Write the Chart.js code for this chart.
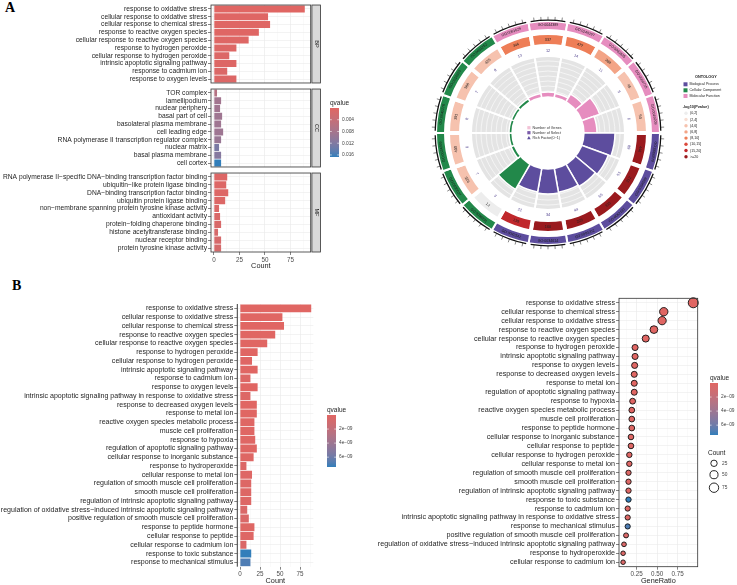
<!DOCTYPE html>
<html>
<head>
<meta charset="utf-8">
<script src="https://cdn.jsdelivr.net/npm/chart.js@4.4.1/dist/chart.umd.min.js"></script>
<style>
body{margin:0;background:#fff;width:737px;height:585px;position:relative;overflow:hidden;font-family:"Liberation Sans",Arial,sans-serif}
canvas{position:absolute}
.tag{position:absolute;font-family:"Liberation Serif","Times New Roman",serif;font-weight:bold;font-size:14px;line-height:14px}
</style>
</head>
<body>
<div class="tag" style="left:5px;top:1px">A</div>
<div class="tag" style="left:12px;top:279px">B</div>
<canvas id="bp" width="324" height="88" style="left:0;top:0"></canvas>
<canvas id="cc" width="360" height="88" style="left:0;top:84px"></canvas>
<canvas id="mf" width="324" height="102" style="left:0;top:168px"></canvas>
<canvas id="ring" width="319" height="260" style="left:418px;top:3px"></canvas>
<canvas id="inner" width="154" height="154" style="left:471px;top:56px"></canvas>
<canvas id="bbar" width="360" height="287" style="left:0;top:298px"></canvas>
<canvas id="dot" width="361" height="295" style="left:376px;top:290px"></canvas>
<script>
// ---------- panel A : bar chart by ontology ----------
const bpTerms = ["response to oxidative stress","cellular response to oxidative stress","cellular response to chemical stress","response to reactive oxygen species","cellular response to reactive oxygen species","response to hydrogen peroxide","cellular response to hydrogen peroxide","intrinsic apoptotic signaling pathway","response to cadmium ion","response to oxygen levels"];
const bpCount = [89,53,55,44,34,22,15,22,13,22];
const bpQ = [0.00001,0.0001,0.0001,0.0002,0.0003,0.0004,0.0006,0.0004,0.0008,0.0006];

const ccTerms = ["TOR complex","lamellipodium","nuclear periphery","basal part of cell","basolateral plasma membrane","cell leading edge","RNA polymerase II transcription regulator complex","nuclear matrix","basal plasma membrane","cell cortex"];
const ccCount = [3,7,6,8,7,9,7,5,7,7];
const ccQ = [0.0062,0.0085,0.0086,0.0088,0.0088,0.009,0.0095,0.0125,0.0115,0.0167];

const mfTerms = ["RNA polymerase II\u2212specific DNA\u2212binding transcription factor binding","ubiquitin\u2212like protein ligase binding","DNA\u2212binding transcription factor binding","ubiquitin protein ligase binding","non\u2212membrane spanning protein tyrosine kinase activity","antioxidant activity","protein\u2212folding chaperone binding","histone acetyltransferase binding","nuclear receptor binding","protein tyrosine kinase activity"];
const mfCount = [13,12,14,11,5,6,7,4,7,7];
const mfQ = [0.0005,0.0005,0.0005,0.0006,0.0008,0.001,0.0012,0.0015,0.0015,0.0016];
const aQTicks = [0.004,0.008,0.012,0.016];

// ---------- panel A : circular plot (MF, BP, CC; clockwise) ----------
const goIds = ["GO:0061629","GO:0044389","GO:0140297","GO:0031625","GO:0004715","GO:0016209",
  "GO:0006979","GO:0034599","GO:0062197","GO:0000302","GO:0034614","GO:0042542",
  "GO:0038201","GO:0030027","GO:0034399","GO:0045178","GO:0016323","GO:0031252"];
const goOnt = ["MF","MF","MF","MF","MF","MF","BP","BP","BP","BP","BP","BP","CC","CC","CC","CC","CC","CC"];
const goGenes = [344,337,477,308,45,50, 446,312,333,225,160,139, 12,326,400,391,388,425];
const goSelect = [13,12,14,11,5,6, 89,53,55,44,34,22, 3,7,6,8,7,9];
const goLogP = [9,9.5,9.2,7,5,5, 40,28,28,25,22,20, 1.5,5,5,5,5,5];
const goRich = [0.08,0.1,0.08,0.2,0.45,0.3, 0.75,0.68,0.62,0.58,0.6,0.57, 0.7,0.06,0.05,0.05,0.05,0.06];
const pBreaks = [2,4,6,8,10,15,20];
const pLabels = ["(0,2]","(2,4]","(4,6]","(6,8]","(8,10]","(10,15]","(15,20]",">=20"];
const pColors = ["#EDEDED","#F8DED3","#F6C2AE","#F3A486","#EE7E57","#DC4A3D","#C0282C","#9A1A1E"];
const ONT_COL = {BP:"#5D4D9E", CC:"#22884A", MF:"#E68DBF"};

// ---------- panel B : bar chart ----------
const bTerms = ["response to oxidative stress","cellular response to oxidative stress","cellular response to chemical stress","response to reactive oxygen species","cellular response to reactive oxygen species","response to hydrogen peroxide","cellular response to hydrogen peroxide","intrinsic apoptotic signaling pathway","response to cadmium ion","response to oxygen levels","intrinsic apoptotic signaling pathway in response to oxidative stress","response to decreased oxygen levels","response to metal ion","reactive oxygen species metabolic process","muscle cell proliferation","response to hypoxia","regulation of apoptotic signaling pathway","cellular response to inorganic substance","response to hydroperoxide","cellular response to metal ion","regulation of smooth muscle cell proliferation","smooth muscle cell proliferation","regulation of intrinsic apoptotic signaling pathway","regulation of oxidative stress\u2212induced intrinsic apoptotic signaling pathway","positive regulation of smooth muscle cell proliferation","response to peptide hormone","cellular response to peptide","cellular response to cadmium ion","response to toxic substance","response to mechanical stimulus"];
const bCount = [89,53,55,44,34,22,15,22,13,22,13,21,21,18,18,19,21,17,8,15,14,14,14,9,11,18,17,8,14,13];
const bQ = [1e-20,1e-13,1e-13,1e-12,1e-11,1e-11,5e-11,1e-11,2e-10,1e-11,2e-10,3e-11,3e-11,8e-11,8e-11,6e-11,4e-11,1.2e-10,3e-10,1.5e-10,2e-10,2e-10,2e-10,4e-10,4e-10,1.2e-10,1.5e-10,4e-10,7.4e-9,6.9e-9];
const bQTicks = [2e-9,4e-9,6e-9];
const bQLabels = ["2e\u221209","4e\u221209","6e\u221209"];

// ---------- panel B : dot plot ----------
const dotTerms = ["response to oxidative stress","cellular response to chemical stress","cellular response to oxidative stress","response to reactive oxygen species","cellular response to reactive oxygen species","response to hydrogen peroxide","intrinsic apoptotic signaling pathway","response to oxygen levels","response to decreased oxygen levels","response to metal ion","regulation of apoptotic signaling pathway","response to hypoxia","reactive oxygen species metabolic process","muscle cell proliferation","response to peptide hormone","cellular response to inorganic substance","cellular response to peptide","cellular response to hydrogen peroxide","cellular response to metal ion","regulation of smooth muscle cell proliferation","smooth muscle cell proliferation","regulation of intrinsic apoptotic signaling pathway","response to toxic substance","response to cadmium ion","intrinsic apoptotic signaling pathway in response to oxidative stress","response to mechanical stimulus","positive regulation of smooth muscle cell proliferation","regulation of oxidative stress\u2212induced intrinsic apoptotic signaling pathway","response to hydroperoxide","cellular response to cadmium ion"];
const dotRatio = [0.94,0.58,0.56,0.46,0.36,0.23,0.23,0.225,0.22,0.22,0.22,0.2,0.19,0.19,0.19,0.18,0.18,0.16,0.16,0.15,0.15,0.15,0.15,0.14,0.14,0.14,0.12,0.095,0.084,0.084];
const dotCount = [89,55,53,44,34,22,22,22,21,21,21,19,18,18,18,17,17,15,15,14,14,14,14,13,13,13,11,9,8,8];
const dotQ = [1e-20,1e-13,1e-13,1e-12,1e-11,1e-11,1e-11,1e-11,3e-11,3e-11,4e-11,6e-11,8e-11,8e-11,1.2e-10,1.2e-10,1.5e-10,5e-11,1.5e-10,2e-10,2e-10,2e-10,7.4e-9,2e-10,2e-10,6.9e-9,4e-10,4e-10,3e-10,4e-10];
const countLegend = [25,50,75];

Chart.defaults.font.family = '"Liberation Sans", Arial, sans-serif';

// colour scale low -> high qvalue, interpolated in Lab like ggplot
const LOW = [224,102,99], HIGH = [50,126,186];
function toLab(c){
  const l = c.map(v => { v/=255; return v<=0.04045 ? v/12.92 : Math.pow((v+0.055)/1.055,2.4); });
  const X=(0.4124*l[0]+0.3576*l[1]+0.1805*l[2])/0.95047, Y=0.2126*l[0]+0.7152*l[1]+0.0722*l[2], Z=(0.0193*l[0]+0.1192*l[1]+0.9505*l[2])/1.08883;
  const f = t => t>0.008856 ? Math.cbrt(t) : 7.787*t+16/116;
  return [116*f(Y)-16, 500*(f(X)-f(Y)), 200*(f(Y)-f(Z))];
}
function fromLab([L,a,b]){
  const fy=(L+16)/116, fx=fy+a/500, fz=fy-b/200;
  const fi = t => t*t*t>0.008856 ? t*t*t : (t-16/116)/7.787;
  const X=0.95047*fi(fx), Y=fi(fy), Z=1.08883*fi(fz);
  const lin=[3.2406*X-1.5372*Y-0.4986*Z, -0.9689*X+1.8758*Y+0.0415*Z, 0.0557*X-0.2040*Y+1.0570*Z];
  return lin.map(v => Math.round(255*Math.max(0,Math.min(1, v<=0.0031308 ? 12.92*v : 1.055*Math.pow(v,1/2.4)-0.055))));
}
const LAB_LO = toLab(LOW), LAB_HI = toLab(HIGH);
function qCol(q, min, max){
  const t = Math.max(0, Math.min(1, (q-min)/(max-min)));
  const c = fromLab(LAB_LO.map((v,i) => v+(LAB_HI[i]-v)*t));
  return 'rgb('+c.join(',')+')';
}
const aQMax = Math.max(...bpQ, ...ccQ, ...mfQ);
const bQMax = Math.max(...bQ);

function binColor(v){
  let i = 0;
  while (i < pBreaks.length && v > pBreaks[i]) i++;
  return pColors[i];
}

// ---------- plugins ----------
const frame = {id:'frame', afterDraw(c){
  const a=c.chartArea, x=c.ctx;
  x.save(); x.strokeStyle='#333'; x.lineWidth=0.8;
  x.strokeRect(a.left,a.top,a.right-a.left,a.bottom-a.top); x.restore();
}};

const strip = {id:'strip', afterDraw(c, args, o){
  if (!o.text) return;
  const a=c.chartArea, x=c.ctx, l=a.right+1.2, w=8.5;
  x.save();
  x.fillStyle='#D9D9D9'; x.fillRect(l,a.top,w,a.bottom-a.top);
  x.strokeStyle='#333'; x.lineWidth=0.8; x.strokeRect(l,a.top,w,a.bottom-a.top);
  x.translate(l+w/2,(a.top+a.bottom)/2); x.rotate(Math.PI/2);
  x.fillStyle='#1a1a1a'; x.font='5.5px "Liberation Sans"'; x.textAlign='center'; x.textBaseline='middle';
  x.fillText(o.text,0,0); x.restore();
}};

const qLegend = {id:'qLegend', afterDraw(c, args, o){
  if (!o.ticks) return;
  const x=c.ctx, {left, top, w, h, min, max} = o;
  x.save();
  x.fillStyle='#222'; x.font='6.5px "Liberation Sans"'; x.textBaseline='alphabetic'; x.textAlign='left';
  x.fillText('qvalue', left, top-3);
  const g = x.createLinearGradient(0, top, 0, top+h);
  for (let i=0;i<=10;i++) g.addColorStop(i/10, qCol(min+(max-min)*i/10, min, max));
  x.fillStyle=g; x.fillRect(left, top, w, h);
  x.font='4.8px "Liberation Sans"'; x.textBaseline='middle';
  o.ticks.forEach((t,i) => {
    const yy = top+(t-min)/(max-min)*h;
    x.strokeStyle='#fff'; x.lineWidth=0.6; x.beginPath();
    x.moveTo(left,yy); x.lineTo(left+w*0.2,yy); x.moveTo(left+w*0.8,yy); x.lineTo(left+w,yy); x.stroke();
    x.fillStyle='#444'; x.fillText(o.labels[i], left+w+3, yy);
  });
  if (o.sizes) {
    x.fillStyle='#222'; x.font='6.5px "Liberation Sans"'; x.textBaseline='alphabetic';
    x.fillText('Count', left-2, o.sizeTop);
    o.sizes.forEach((n,i) => {
      const yy=o.sizeY[i];
      x.strokeStyle='#111'; x.lineWidth=0.9; x.beginPath(); x.arc(left+4, yy, sizeOf(n), 0, 2*Math.PI); x.stroke();
      x.fillStyle='#444'; x.font='4.8px "Liberation Sans"'; x.textBaseline='middle'; x.fillText(String(n), left+12, yy);
    });
  }
  x.restore();
}};

function sizeOf(n){ return 1.14 + 0.41*Math.sqrt(n); }

function catAxis(width, fs){
  return {
    type:'category', offset:true,
    afterFit: s => { s.width = width; },
    border:{display:false},
    grid:{offset:false, color:'#EBEBEB', lineWidth:0.6, drawTicks:true, tickLength:3, tickColor:'#333', tickWidth:0.6},
    ticks:{autoSkip:false, padding:1, color:'#1f1f1f', font:{size:fs}}
  };
}
function valAxis(min, max, vals, isMajor, fmt, showTicks, height, title){
  return {
    type:'linear', min, max,
    afterBuildTicks: s => { s.ticks = vals.map(v => ({value:v})); },
    afterFit: s => { s.height = height; },
    border:{display:false},
    grid:{
      color: c => (c.tick && isMajor(c.tick.value)) ? '#EBEBEB' : '#F4F4F4',
      lineWidth: c => (c.tick && isMajor(c.tick.value)) ? 0.7 : 0.45,
      drawTicks: showTicks, tickLength:3, tickWidth:0.6,
      tickColor: c => (c.tick && isMajor(c.tick.value)) ? '#333' : 'rgba(0,0,0,0)'
    },
    ticks:{display:showTicks, autoSkip:false, maxRotation:0, padding:1, color:'#4D4D4D', font:{size:6.3},
      callback: v => isMajor(v) ? fmt(v) : ''},
    title:{display:showTicks, text:title, color:'#222', font:{size:7.3}, padding:0}
  };
}
const countVals = [0,12.5,25,37.5,50,62.5,75,87.5];
const isCountMajor = v => v % 25 === 0;

function facetBar(id, terms, counts, qs, label, showX, padRight, legend){
  return new Chart(document.getElementById(id), {
    type:'bar',
    data:{labels:terms, datasets:[{data:counts, backgroundColor:qs.map(q => qCol(q,0,aQMax)),
      barPercentage:0.9, categoryPercentage:1}]},
    options:{
      indexAxis:'y', responsive:false, animation:false,
      layout:{padding:{top:4, bottom:showX?0:4, left:0, right:padRight}},
      plugins:{legend:{display:false}, tooltip:{enabled:false}, strip:{text:label}, qLegend:legend || {}},
      scales:{
        x: valAxis(-2.9, 94.8, countVals, isCountMajor, v => v, showX, showX?18:0, 'Count'),
        y: catAxis(211, 6.7)
      }
    },
    plugins:[frame, strip, qLegend]
  });
}

facetBar('bp', bpTerms, bpCount, bpQ, 'BP', false, 13.3);
facetBar('cc', ccTerms, ccCount, ccQ, 'CC', false, 49.3,
  {left:330, top:24, w:9, h:49, min:0, max:aQMax, ticks:aQTicks, labels:aQTicks.map(v => v.toFixed(3))});
facetBar('mf', mfTerms, mfCount, mfQ, 'MF', true, 13.3);

// ---------- circular plot ----------
function arcText(x, cx, cy, r, th, txt, font, col){
  x.save();
  x.translate(cx+r*Math.cos(th), cy+r*Math.sin(th));
  x.rotate(Math.sin(th) > 0.3 ? th-Math.PI/2 : th+Math.PI/2);
  x.font=font; x.fillStyle=col; x.textAlign='center'; x.textBaseline='middle';
  x.fillText(txt,0,0); x.restore();
}

const ringDeco = {id:'ringDeco', afterDatasetsDraw(c){
  const x=c.ctx, outer=c.getDatasetMeta(0).data, boxes=c.getDatasetMeta(2).data;
  x.save();
  outer.forEach((a,i) => {
    const cx=a.x, cy=a.y, r1=a.outerRadius+0.8, s=a.startAngle+0.02, e=a.endAngle-0.02, mid=(a.startAngle+a.endAngle)/2;
    x.strokeStyle='#111'; x.lineWidth=1.3; x.beginPath(); x.arc(cx,cy,r1,s,e); x.stroke();
    x.lineWidth=0.5;
    for (let k=0;k<5;k++){
      const t=s+(e-s)*(k+0.5)/5;
      x.beginPath(); x.moveTo(cx+r1*Math.cos(t), cy+r1*Math.sin(t));
      x.lineTo(cx+(r1+3.5)*Math.cos(t), cy+(r1+3.5)*Math.sin(t)); x.stroke();
    }
    arcText(x, cx, cy, (a.innerRadius+a.outerRadius)/2, mid, goIds[i], '3.6px "Liberation Sans"', '#1a1a1a');
    const b = boxes[i];
    arcText(x, cx, cy, (b.innerRadius+b.outerRadius)/2, mid, String(goGenes[i]), '3.8px "Liberation Sans"', '#222');
    arcText(x, cx, cy, 82, mid, String(goSelect[i]), '3.8px "Liberation Sans"', '#4B3C8A');
  });
  // legend
  x.textAlign='left'; x.textBaseline='middle';
  x.fillStyle='#222'; x.font='bold 3.8px "Liberation Sans"'; x.fillText('ONTOLOGY', 277, 73.7);
  x.font='3.6px "Liberation Sans"';
  [['Biological Process','BP'],['Cellular Component','CC'],['Molecular Function','MF']].forEach(([t,k],i) => {
    const yy=[81.3,87.3,93][i];
    x.fillStyle=ONT_COL[k]; x.fillRect(265.5, yy-2, 4, 4);
    x.fillStyle='#222'; x.fillText(t, 271.5, yy);
  });
  x.font='bold 3.8px "Liberation Sans"'; x.fillText('-log10(Pvalue)', 264.7, 104.3);
  x.font='3.6px "Liberation Sans"';
  pLabels.forEach((t,i) => {
    const yy=110.3+i*6.2;
    x.fillStyle=pColors[i]; x.beginPath(); x.arc(268, yy, 1.7, 0, 2*Math.PI); x.fill();
    x.fillStyle='#222'; x.fillText(t, 272, yy);
  });
  x.restore();
}};

new Chart(document.getElementById('ring'), {
  type:'doughnut',
  data:{labels:goIds, datasets:[
    {data:goIds.map(() => 1), backgroundColor:goOnt.map(o => ONT_COL[o]), borderColor:'#fff', borderWidth:2, weight:9},
    {data:goIds.map(() => 1), backgroundColor:'rgba(0,0,0,0)', borderWidth:0, weight:3},
    {data:goIds.map(() => 1), backgroundColor:goLogP.map(binColor), borderColor:'#fff', borderWidth:4, weight:13}
  ]},
  options:{
    responsive:false, animation:false, rotation:-30, radius:112, cutout:'77.68%',
    layout:{padding:{right:59}},
    plugins:{legend:{display:false}, tooltip:{enabled:false}}
  },
  plugins:[ringDeco]
});

const polarDeco = {id:'polarDeco',
  beforeDatasetDraw(c, args){
    if (args.index !== 0) return;
    const s=c.scales.r, x=c.ctx;
    x.save(); x.strokeStyle='#fff'; x.lineWidth=0.6;
    for (let k=1;k<8;k++){
      x.beginPath(); x.arc(s.xCenter, s.yCenter, s.getDistanceFromCenterForValue(k/8), 0, 2*Math.PI); x.stroke();
    }
    x.restore();
  },
  afterDatasetsDraw(c){
    const s=c.scales.r, x=c.ctx;
    x.save();
    x.fillStyle='#fff'; x.beginPath();
    x.arc(s.xCenter, s.yCenter, s.getDistanceFromCenterForValue(0)-0.3, 0, 2*Math.PI); x.fill();
    x.font='3.7px "Liberation Sans"'; x.textAlign='left'; x.textBaseline='middle';
    const items=[['Number of Genes','#F2C2D6'],['Number of Select','#7B5BAA'],['Rich Factor(0~1)','#5D4D9E']];
    items.forEach(([t,col],i) => {
      const yy=71.7+i*5;
      x.fillStyle=col;
      if (i<2) x.fillRect(56.3, yy-1.6, 3.2, 3.2);
      else { x.beginPath(); x.moveTo(57.9, yy-1.8); x.lineTo(59.7, yy+1.5); x.lineTo(56.1, yy+1.5); x.closePath(); x.fill(); }
      x.fillStyle='#333'; x.fillText(t, 61.5, yy);
    });
    x.restore();
  }
};

new Chart(document.getElementById('inner'), {
  type:'polarArea',
  data:{labels:goIds, datasets:[
    {data:goRich, backgroundColor:goOnt.map(o => ONT_COL[o]), borderColor:'#fff', borderWidth:1.5},
    {data:goIds.map(() => 1), backgroundColor:'#E4E4E4', borderColor:'#fff', borderWidth:2}
  ]},
  options:{
    responsive:false, animation:false,
    scales:{r:{display:false, min:-0.925, max:1, startAngle:-30}},
    plugins:{legend:{display:false}, tooltip:{enabled:false}}
  },
  plugins:[polarDeco]
});

// ---------- panel B bar ----------
new Chart(document.getElementById('bbar'), {
  type:'bar',
  data:{labels:bTerms, datasets:[{data:bCount, backgroundColor:bQ.map(q => qCol(q,0,bQMax)),
    barPercentage:0.9, categoryPercentage:1}]},
  options:{
    indexAxis:'y', responsive:false, animation:false,
    layout:{padding:{top:6, bottom:0, left:0, right:46.7}},
    plugins:{legend:{display:false}, tooltip:{enabled:false},
      qLegend:{left:327, top:117, w:9, h:52, min:0, max:bQMax, ticks:bQTicks, labels:bQLabels}},
    scales:{
      x: valAxis(-3.4, 91.6, countVals, isCountMajor, v => v, true, 18.3, 'Count'),
      y: catAxis(237.3, 7.05)
    }
  },
  plugins:[qLegend, {id:'axisLine', afterDraw(c){
    const a=c.chartArea, x=c.ctx; x.save(); x.strokeStyle='#222'; x.lineWidth=0.9;
    x.beginPath(); x.moveTo(a.left,a.top); x.lineTo(a.left,a.bottom); x.stroke(); x.restore();
  }}]
});

// ---------- panel B dot plot ----------
const ratioVals = [0.125,0.25,0.375,0.5,0.625,0.75,0.875];
const isRatioMajor = v => Math.abs(v/0.25 - Math.round(v/0.25)) < 1e-6;
new Chart(document.getElementById('dot'), {
  type:'scatter',
  data:{datasets:[{
    data:dotTerms.map((t,i) => ({x:dotRatio[i], y:t})),
    pointRadius:dotCount.map(sizeOf),
    backgroundColor:dotQ.map(q => qCol(q,0,bQMax)),
    borderColor:'#111', borderWidth:0.9, clip:false
  }]},
  options:{
    responsive:false, animation:false,
    layout:{padding:{top:8.3, bottom:0, left:0, right:39.3}},
    plugins:{legend:{display:false}, tooltip:{enabled:false},
      qLegend:{left:334, top:93, w:8, h:52, min:0, max:bQMax, ticks:bQTicks, labels:bQLabels,
        sizes:countLegend, sizeTop:165, sizeY:[173.3,184.7,197.7]}},
    scales:{
      x: valAxis(0.034, 0.994, ratioVals, isRatioMajor, v => v.toFixed(2), true, 18.3, 'GeneRatio'),
      y: Object.assign(catAxis(243, 7.2), {labels:dotTerms})
    }
  },
  plugins:[frame, qLegend]
});
</script>
</body>
</html>
